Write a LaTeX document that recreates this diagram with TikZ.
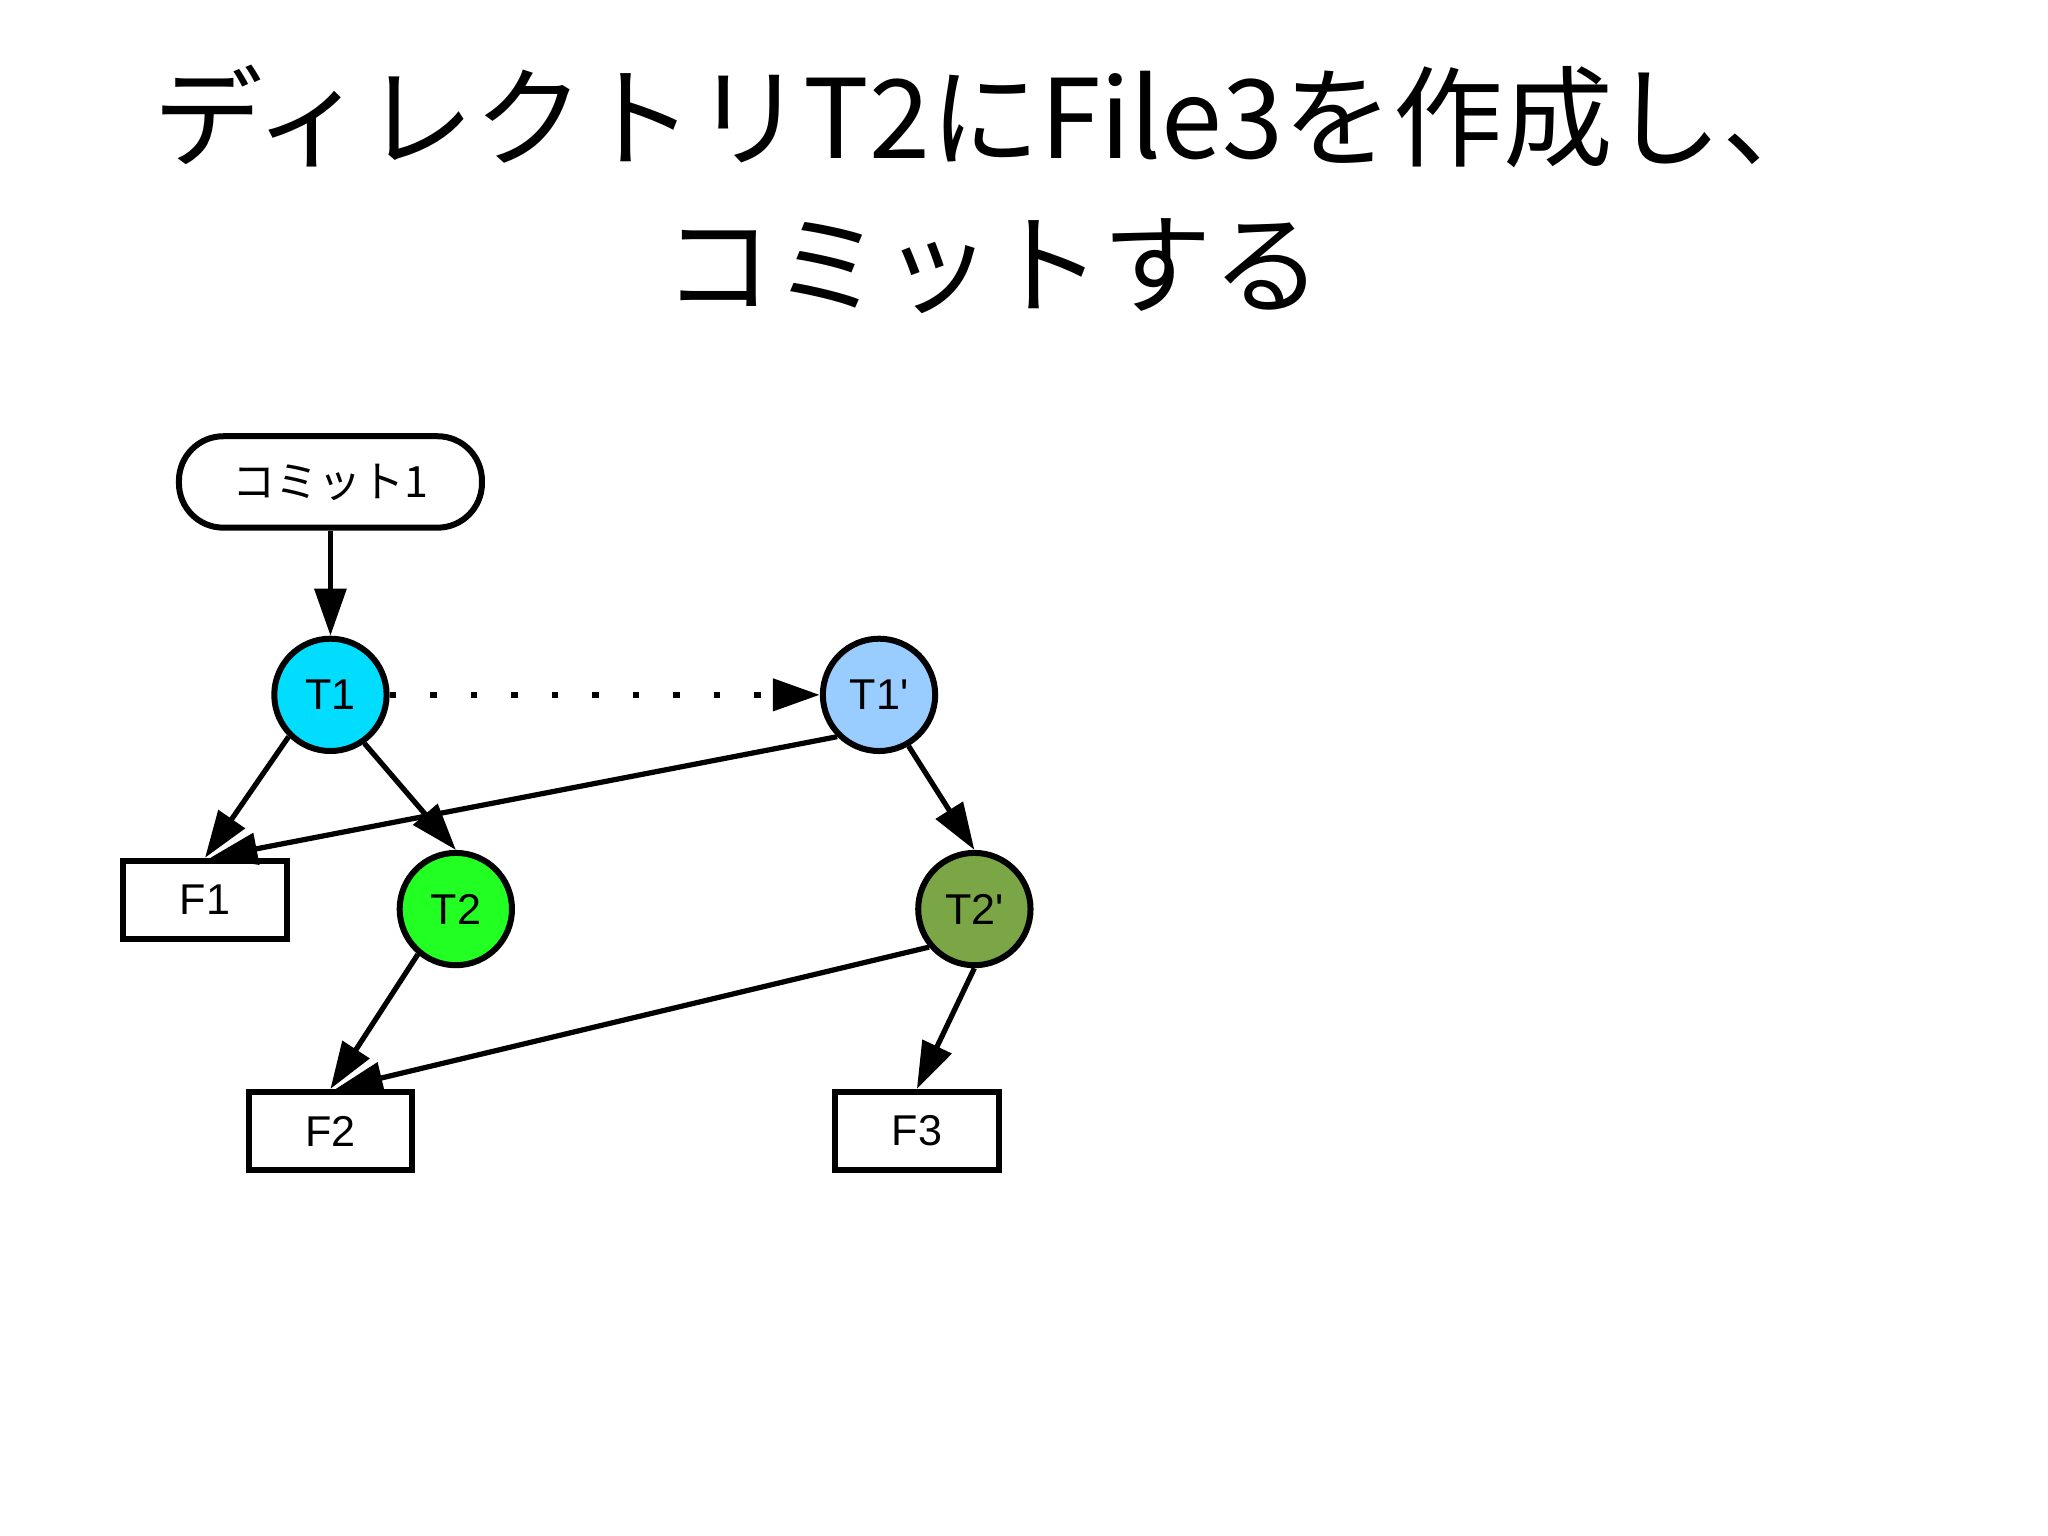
\documentclass[tikz,border=0pt]{standalone}
\usepackage{fontspec}
\setmainfont{Liberation Sans}
\newfontfamily\cjk{Noto Sans CJK JP}
\usetikzlibrary{arrows.meta}
\begin{document}
\begin{tikzpicture}[x=0.5pt,y=-0.5pt,
  circ/.style={circle,draw,line width=2.3pt,minimum size=43pt,inner sep=0pt,font=\fontsize{16.5}{18}\selectfont},
  fbox/.style={rectangle,draw,line width=2.3pt,minimum width=62.5pt,minimum height=30pt,font=\fontsize{16.5}{18}\selectfont},
  arr/.style={line width=2pt,-{Triangle[length=18pt,width=12pt]}}]
\useasboundingbox (0,0) rectangle (1568,1176);
\node[font=\cjk\fontsize{42}{56}\selectfont,align=center] (title) at (760,145) {ディレクトリT2にFile3を作成し、\\コミットする};
\node[draw,line width=2.3pt,rounded corners=17pt,minimum width=116pt,minimum height=35pt,font=\cjk\fontsize{16.5}{18}\selectfont] (c1) at (253,369) {コミット1};
\node[circ,fill={rgb,255:red,0;green,221;blue,255}] (t1) at (253,532) {T1};
\node[circ,fill={rgb,255:red,153;green,204;blue,255}] (t1p) at (673,532) {T1\textquotesingle};
\node[circ,fill={rgb,255:red,34;green,255;blue,34}] (t2) at (349,696) {T2};
\node[circ,fill={rgb,255:red,123;green,166;blue,70}] (t2p) at (746,696) {T2\textquotesingle};
\node[fbox] (f1) at (157,689) {F1};
\node[fbox] (f2) at (253,866) {F2};
\node[fbox] (f3) at (702,866) {F3};
\draw[arr] (c1) -- (t1);
\draw[arr,line width=2.5pt,dash pattern=on 2.5pt off 13pt] (t1) -- (t1p);
\draw[arr] (t1.225) -- (f1.north);
\draw[arr] (t1.305) -- (t2.north);
\draw[arr] (t1p.225) -- ([xshift=2pt]f1.north);
\draw[arr] (t1p.300) -- (t2p.north);
\draw[arr] (t2.230) -- (f2.north);
\draw[arr] (t2p.220) -- ([xshift=2pt]f2.north);
\draw[arr] (t2p.270) -- (f3.north);
\end{tikzpicture}
\end{document}
